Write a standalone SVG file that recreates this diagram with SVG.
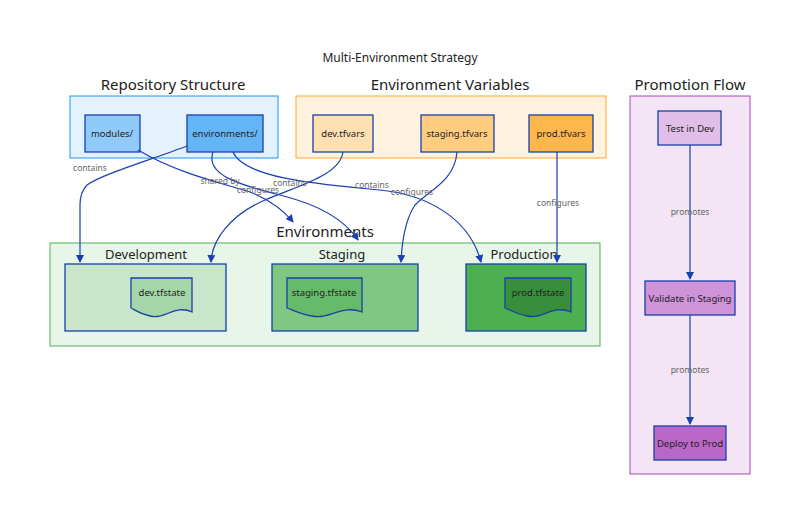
<svg xmlns="http://www.w3.org/2000/svg" width="800" height="525" viewBox="0 0 800 525">
<defs>
<marker id="ah" markerWidth="8" markerHeight="8" refX="7" refY="4" orient="auto" markerUnits="userSpaceOnUse"><path d="M0,0 L8,4 L0,8 z" fill="#1a3fb0"/></marker>
<style>
text{font-family:"Noto Sans","Liberation Sans",sans-serif;text-anchor:middle;fill:#222}
.t{font-size:15px}
.n{font-size:9.5px;dominant-baseline:middle}
.l{font-size:8.5px;fill:#666;dominant-baseline:middle}
.nd{stroke:#1a3fa8;stroke-width:1.3}
.e{fill:none;stroke:#1a3fb0;stroke-width:1.2;marker-end:url(#ah)}
</style>
</defs>
<rect width="800" height="525" fill="#fff"/>
<text x="400" y="62" style="font-size:12px">Multi-Environment Strategy</text>
<g id="repo"><rect x="70" y="96" width="208" height="62" fill="#e3f2fd" stroke="#2196f3"/><text class="t" x="173" y="90">Repository Structure</text></g>
<g id="vars"><rect x="296" y="96" width="310" height="62" fill="#fff3e0" stroke="#ffa726"/><text class="t" x="450" y="90">Environment Variables</text></g>
<g id="envs"><rect x="50" y="243" width="550" height="103" fill="#e8f5e9" stroke="#4caf50"/><text class="t" x="325" y="237">Environments</text></g>
<g id="promo"><rect x="630" y="96" width="120" height="378" fill="#f3e5f5" stroke="#ab47bc"/><text class="t" x="690" y="90">Promotion Flow</text></g>
<g id="modules"><rect class="nd" x="85" y="115" width="55" height="37" fill="#90caf9"/><text class="n" x="112" y="134">modules/</text></g>
<g id="environments"><rect class="nd" x="187" y="115" width="76" height="37" fill="#64b5f6"/><text class="n" x="225" y="134">environments/</text></g>
<g id="devvars"><rect class="nd" x="313" y="115" width="60" height="37" fill="#ffe0b2"/><text class="n" x="343" y="134">dev.tfvars</text></g>
<g id="stgvars"><rect class="nd" x="421" y="115" width="73" height="37" fill="#ffcc80"/><text class="n" x="457" y="134">staging.tfvars</text></g>
<g id="prodvars"><rect class="nd" x="529" y="115" width="64" height="37" fill="#ffb74d"/><text class="n" x="561" y="134">prod.tfvars</text></g>
<g id="dev"><rect class="nd" x="65" y="264" width="161" height="67" fill="#c8e6c9"/><text class="t" x="146" y="259" style="font-size:13px">Development</text>
<path class="nd" d="M131,278 H192 V312 C175,304 165,320 150,316 C140,314 135,310 131,308 Z" fill="#a5d6a7"/><text class="n" x="162" y="293">dev.tfstate</text></g>
<g id="stg"><rect class="nd" x="272" y="264" width="146" height="67" fill="#81c784"/><text class="t" x="342" y="259" style="font-size:13px">Staging</text>
<path class="nd" d="M287,278 H362 V312 C342,304 330,320 312,316 C300,314 293,310 287,308 Z" fill="#66bb6a"/><text class="n" x="324" y="293">staging.tfstate</text></g>
<g id="prod"><rect class="nd" x="466" y="264" width="120" height="67" fill="#4caf50"/><text class="t" x="524" y="259" style="font-size:13px">Production</text>
<path class="nd" d="M505,278 H571 V312 C553,304 542,320 527,316 C517,314 510,310 505,308 Z" fill="#388e3c"/><text class="n" x="538" y="293">prod.tfstate</text></g>
<g id="test"><rect class="nd" x="658" y="111" width="63" height="34" fill="#e1bee7"/><text class="n" x="690" y="129">Test in Dev</text></g>
<g id="validate"><rect class="nd" x="645" y="281" width="90" height="34" fill="#ce93d8"/><text class="n" x="690" y="299">Validate in Staging</text></g>
<g id="deploy"><rect class="nd" x="654" y="426" width="72" height="34" fill="#ba68c8"/><text class="n" x="690" y="444">Deploy to Prod</text></g>
<g id="connectors">
<path class="e" d="M187,146 C150,160 100,175 87,185 Q80,192 80,205 V262"/>
<path class="e" d="M138,150 C180,175 230,185 250,192 C270,200 285,212 293,222"/>
<path class="e" d="M213,152 C205,175 240,185 280,195 C320,205 345,220 358,240"/>
<path class="e" d="M233,152 C245,180 330,185 380,190 C430,195 470,220 481,262"/>
<path class="e" d="M343,152 C340,175 300,185 265,200 C230,215 212,240 211,262"/>
<path class="e" d="M457,152 C455,180 430,190 415,205 C405,220 402,240 401,262"/>
<path class="e" d="M557,152 V262"/>
<path class="e" d="M690,145 V279"/>
<path class="e" d="M690,315 V424"/>
<text class="l" x="90" y="169">contains</text>
<text class="l" x="220" y="182">shared by</text>
<text class="l" x="290" y="184">contains</text>
<text class="l" x="258" y="191">configures</text>
<text class="l" x="372" y="186">contains</text>
<text class="l" x="412" y="193">configures</text>
<text class="l" x="558" y="204">configures</text>
<text class="l" x="690" y="213">promotes</text>
<text class="l" x="690" y="371">promotes</text>
</g>
</svg>
